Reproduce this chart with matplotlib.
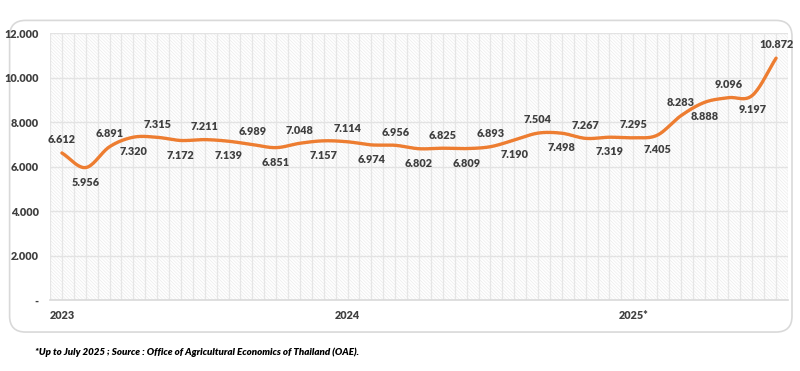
import matplotlib.pyplot as plt
import matplotlib.patches as mpatches
import numpy as np

# monthly values, Jan 2023 - Jul 2025
values = [6612, 5956, 6891, 7320, 7315, 7172, 7211, 7139, 6989, 6851, 7048, 7157,
          7114, 6974, 6956, 6802, 6825, 6809, 6893, 7190, 7504, 7498, 7267, 7319,
          7295, 7405, 8283, 8888, 9096, 9197, 10872]
year_ticks = [0, 12, 24]
year_labels = ['2023', '2024', '2025*']
y_ticks = [0, 2000, 4000, 6000, 8000, 10000, 12000]
note = '*Up to July 2025 ; Source : Office of Agricultural Economics of Thailand (OAE).'

plt.rcParams['font.family'] = ['Lato', 'DejaVu Sans']
plt.rcParams['hatch.linewidth'] = 0.5


def smooth(x, y, n=20):
    """Catmull-Rom curve through the points, like the smoothed line of a spreadsheet"""
    x = np.asarray(x, float)
    y = np.asarray(y, float)
    px = np.concatenate(([2*x[0]-x[1]], x, [2*x[-1]-x[-2]]))
    py = np.concatenate(([2*y[0]-y[1]], y, [2*y[-1]-y[-2]]))
    xs, ys = [], []
    t = np.linspace(0, 1, n)
    for i in range(1, len(px)-2):
        for p, out in ((px, xs), (py, ys)):
            p0, p1, p2, p3 = p[i-1], p[i], p[i+1], p[i+2]
            out.extend(0.5*((2*p1) + (-p0+p2)*t + (2*p0-5*p1+4*p2-p3)*t**2 + (-p0+3*p1-3*p2+p3)*t**3))
    return np.array(xs), np.array(ys)


fig = plt.figure(figsize=(8, 3.71), dpi=100)

# rounded frame round the chart
frame = mpatches.FancyBboxPatch((0.012, 0.105), 0.978, 0.84, boxstyle='round,pad=0,rounding_size=0.02',
                                transform=fig.transFigure, facecolor='white', edgecolor='#d9d9d9',
                                linewidth=1.2, mutation_aspect=800/371, zorder=-1)
fig.patches.append(frame)

ax = fig.add_axes([0.0625, 0.191, 0.9225, 0.72])
ax.set_facecolor('none')

# hatched background
bg = mpatches.Rectangle((0, 0), 1, 1, transform=ax.transAxes, facecolor='white',
                        edgecolor='#ececec', hatch='\\' * 10, linewidth=0, zorder=0)
ax.add_patch(bg)

x = np.arange(len(values))
ax.set_xlim(-0.5, len(values) - 0.5)
ax.set_ylim(0, 12000)

for gx in np.arange(-0.5, len(values), 0.5):
    ax.axvline(gx, color='#e6e6e6', linewidth=0.9, zorder=1)
for gy in y_ticks[1:]:
    ax.axhline(gy, color='#e3e3e3', linewidth=1.0, zorder=1)

sx, sy = smooth(x, values)
ax.plot(sx, sy, color='#ED7D31', linewidth=2.4, solid_capstyle='round', zorder=3)

for i, v in enumerate(values):
    off = 9.5 if i % 2 == 0 else -10.5
    ax.annotate(f'{v/1000:.3f}', (i, v), xytext=(0, off), textcoords='offset points',
                ha='center', va='center', fontsize=7.8, fontweight='heavy', color='#404040', zorder=4)

ax.set_yticks(y_ticks)
ax.set_yticklabels(['-'] + [f'{t/1000:.3f}' for t in y_ticks[1:]])
ax.set_xticks(year_ticks)
ax.set_xticklabels(year_labels)
ax.tick_params(axis='both', length=0, labelsize=7.8, labelcolor='#404040')
ax.tick_params(axis='x', pad=7)
ax.tick_params(axis='y', pad=8)
for lbl in ax.get_xticklabels() + ax.get_yticklabels():
    lbl.set_fontweight('heavy')

for s in ['top', 'right', 'left']:
    ax.spines[s].set_visible(False)
ax.spines['bottom'].set_color('#d9d9d9')
ax.spines['bottom'].set_linewidth(1.2)

fig.text(0.044, 0.05, note, fontsize=7.0, fontweight='heavy', fontstyle='italic', color='black',
         va='center', ha='left')

fig.savefig('out.png', dpi=100)
